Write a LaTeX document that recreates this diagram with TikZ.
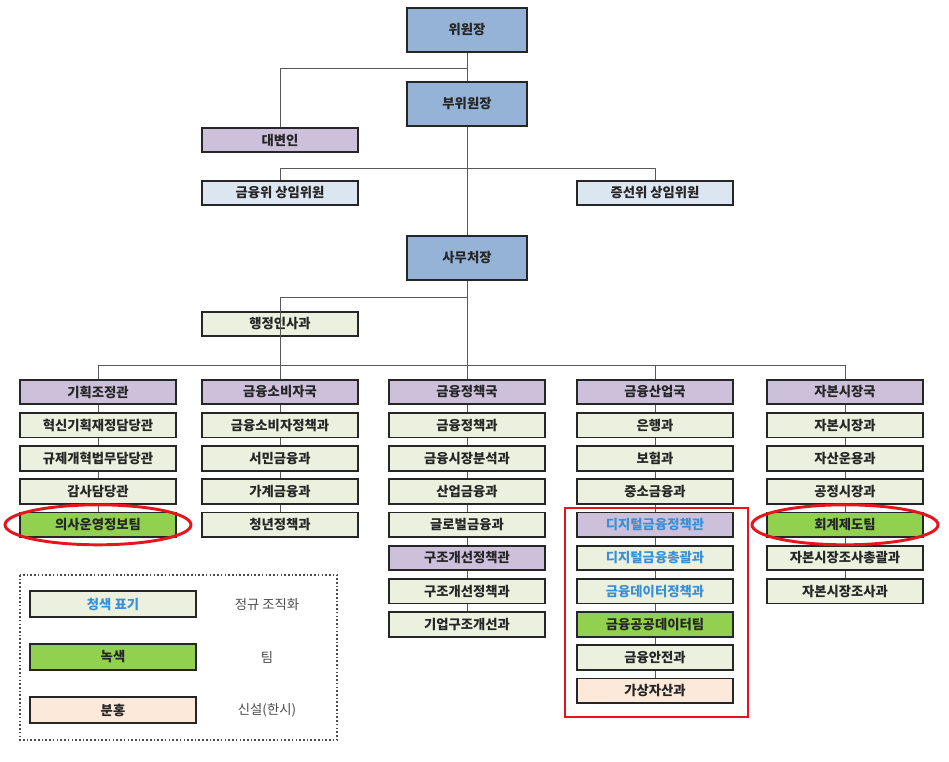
\documentclass[tikz,border=0pt]{standalone}
\usepackage{fontspec}
\setmainfont{Noto Sans CJK KR}
\usetikzlibrary{positioning}
\definecolor{hdc}{HTML}{CCC0DA}
\definecolor{nmc}{HTML}{EBF1DE}
\definecolor{tmc}{HTML}{92D050}
\definecolor{nwc}{HTML}{FDE9D9}
\definecolor{topc}{HTML}{95B3D7}
\definecolor{ltc}{HTML}{DCE6F1}
\definecolor{blt}{HTML}{3A8FD6}
\definecolor{redc}{HTML}{E8141C}
\tikzset{
  box/.style={draw=black!85, line width=1.3pt, minimum width=117pt, minimum height=18.5pt, inner sep=0pt, font=\fontsize{10}{12}\selectfont\bfseries, text=black!85},
  big/.style={box, fill=topc, minimum width=90pt, minimum height=33pt},
  hd/.style={fill=hdc}, nm/.style={fill=nmc}, tm/.style={fill=tmc},
  nw/.style={fill=nwc}, lt/.style={fill=ltc},
  bl/.style={fill=nmc, text=blt}, bh/.style={fill=hdc, text=blt},
  ln/.style={draw=black!65, line width=0.7pt},
  lab/.style={font=\fontsize{10}{12}\selectfont, text=black!70}
}
\begin{document}
\begin{tikzpicture}[x=0.75pt,y=-0.75pt]
    \useasboundingbox (0,0) rectangle (949,761);
    
    % top of the chart
    \node[big] (chair) at (467,30) {위원장};
    \node[big] (vice) at (467,104) {부위원장};
    \node[big] (sec) at (467,258) {사무처장};
    \node[box,hd] (spk) at (280,140) {대변인};
    \node[box,lt] (fsc) at (280,193) {금융위 상임위원};
    \node[box,lt] (sfc) at (655,193) {증선위 상임위원};
    \node[box,nm] (hr) at (280,324) {행정인사과};
    
    \coordinate (k1) at (467,68);
    \coordinate (k2) at (467,168);
    \coordinate (k3) at (467,297);
    \draw[ln] (chair) -- (vice) -- (sec);
    \draw[ln] (k1) -| (spk);
    \draw[ln] (k2) -| (fsc);
    \draw[ln] (k2) -| (sfc);
    \draw[ln] (k3) -| (hr);
    
    % bureaus
    \coordinate (ja) at (98,365);
    \coordinate (je) at (845,365);
    \draw[ln] (ja) -- (je);
    
    \foreach \t/\s [count=\r from 0] in {기획조정관/hd, 혁신기획재정담당관/nm, 규제개혁법무담당관/nm, 감사담당관/nm, 의사운영정보팀/tm}
      \node[box,\s] (a\r) at (98,392+33.2*\r) {\t};
    \foreach \t/\s [count=\r from 0] in {금융소비자국/hd, 금융소비자정책과/nm, 서민금융과/nm, 가계금융과/nm, 청년정책과/nm}
      \node[box,\s] (b\r) at (280,392+33.2*\r) {\t};
    \foreach \t/\s [count=\r from 0] in {금융정책국/hd, 금융정책과/nm, 금융시장분석과/nm, 산업금융과/nm, 글로벌금융과/nm, 구조개선정책관/hd, 구조개선정책과/nm, 기업구조개선과/nm}
      \node[box,\s] (c\r) at (467,392+33.2*\r) {\t};
    \foreach \t/\s [count=\r from 0] in {금융산업국/hd, 은행과/nm, 보험과/nm, 중소금융과/nm, 디지털금융정책관/bh, 디지털금융총괄과/bl, 금융데이터정책과/bl, 금융공공데이터팀/tm, 금융안전과/nm, 가상자산과/nw}
      \node[box,\s] (d\r) at (655,392+33.2*\r) {\t};
    \foreach \t/\s [count=\r from 0] in {자본시장국/hd, 자본시장과/nm, 자산운용과/nm, 공정시장과/nm, 회계제도팀/tm, 자본시장조사총괄과/nm, 자본시장조사과/nm}
      \node[box,\s] (e\r) at (845,392+33.2*\r) {\t};
    
    \draw[ln] (ja) -- (a0);
    \draw[ln] (sec) -- (c0);
    \draw[ln] (hr.north -| b0) -- (b0);
    \draw[ln] (ja -| d0) -- (d0);
    \draw[ln] (je) -- (e0);
    \foreach \r [remember=\r as \p (initially 0)] in {1,...,4} {
      \draw[ln] (a\p) -- (a\r);
      \draw[ln] (b\p) -- (b\r);
    }
    \foreach \r [remember=\r as \p (initially 0)] in {1,...,7} \draw[ln] (c\p) -- (c\r);
    \foreach \r [remember=\r as \p (initially 0)] in {1,...,9} \draw[ln] (d\p) -- (d\r);
    \foreach \r [remember=\r as \p (initially 0)] in {1,...,6} \draw[ln] (e\p) -- (e\r);
    
    % highlights
    \draw[redc, line width=2.2pt] (565,508) rectangle (748,717);
    \draw[redc, line width=2.2pt] (a4) ellipse (93 and 20);
    \draw[redc, line width=2.2pt] (e4) ellipse (93 and 20);
    
    % legend
    \draw[black!70, dash pattern=on 1.2pt off 1.6pt, line width=0.8pt] (20,575) rectangle (337,740);
    \node[box,bl,minimum width=124pt,minimum height=20pt] (lg1) at (113,604) {청색 표기};
    \node[box,tm,minimum width=124pt,minimum height=20pt] (lg2) at (113,657) {녹색};
    \node[box,nw,minimum width=124pt,minimum height=20pt] (lg3) at (113,710) {분홍};
    \node[lab] (lt1) at (267,604) {정규 조직화};
    \node[lab] (lt2) at (267,657) {팀};
    \node[lab] (lt3) at (267,710) {신설(한시)};
\end{tikzpicture}
\end{document}
